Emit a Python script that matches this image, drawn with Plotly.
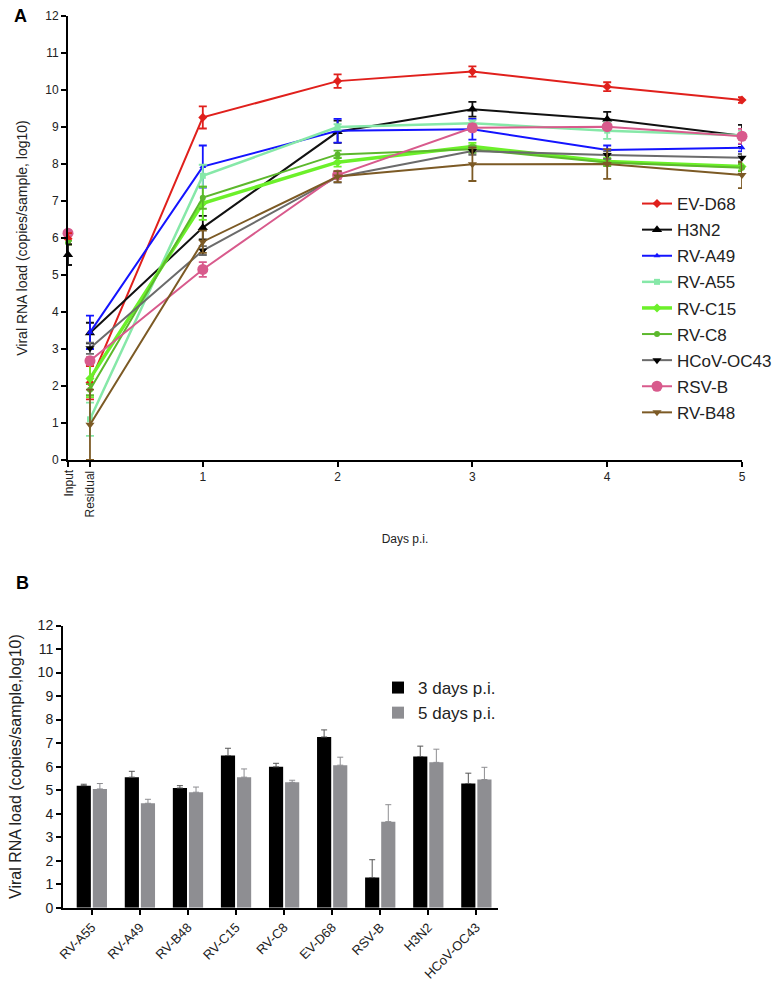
import plotly.graph_objects as go

FONT = "Liberation Sans, Arial, sans-serif"

# ---------------- Panel A data ----------------
timepoints = ["Input", "Residual", "1", "2", "3", "4", "5"]
tp_pos = [0, 0.163, 1, 2, 3, 4, 5]

series_names = ["EV-D68", "H3N2", "RV-A49", "RV-A55", "RV-C15", "RV-C8",
                "HCoV-OC43", "RSV-B", "RV-B48"]

# values at Residual, day1..day5
ev_d68 = [2.09, 9.26, 10.24, 10.50, 10.09, 9.73]
h3n2 = [3.43, 6.28, 8.87, 9.48, 9.21, 8.76]
rv_a49 = [3.45, 7.93, 8.90, 8.94, 8.38, 8.44]
rv_a55 = [1.10, 7.68, 9.00, 9.10, 8.90, 8.78]
rv_c15 = [2.20, 6.94, 8.05, 8.47, 8.07, 7.93]
rv_c8 = [1.90, 7.09, 8.26, 8.40, 8.04, 7.90]
hcov_oc43 = [3.02, 5.66, 7.65, 8.35, 8.24, 8.17]
rsv_b = [2.68, 5.15, 7.70, 8.98, 9.01, 8.75]
rv_b48 = [0.95, 5.90, 7.66, 7.99, 8.00, 7.70]

ev_d68_err = [0.45, 0.30, 0.18, 0.14, 0.12, 0.08]
h3n2_err = [0.28, 0.32, 0.30, 0.20, 0.20, 0.30]
rv_a49_err = [0.45, 0.57, 0.32, 0.28, 0.12, 0.10]
rv_a55_err = [0.45, 0.30, 0.08, 0.08, 0.22, 0.12]
rv_c15_err = [0.50, 0.45, 0.12, 0.10, 0.10, 0.10]
rv_c8_err = [0.15, 0.30, 0.10, 0.10, 0.10, 0.10]
hcov_oc43_err = [0.15, 0.12, 0.15, 0.10, 0.10, 0.10]
rsv_b_err = [0.10, 0.20, 0.10, 0.10, 0.06, 0.20]
rv_b48_err = [0.95, 0.30, 0.15, 0.45, 0.40, 0.35]

# Input values (only some viruses shown)
input_names = ["RSV-B", "EV-D68", "RV-C8", "H3N2"]
input_vals = [6.13, 5.98, 5.87, 5.55]
input_err = [0.06, 0.15, 0.05, 0.28]

# ---------------- Panel B data ----------------
bar_categories = ["RV-A55", "RV-A49", "RV-B48", "RV-C15", "RV-C8", "EV-D68",
                  "RSV-B", "H3N2", "HCoV-OC43"]
day3_vals = [5.19, 5.55, 5.09, 6.47, 5.99, 7.26, 1.28, 6.43, 5.28]
day3_err = [0.06, 0.25, 0.10, 0.31, 0.15, 0.30, 0.76, 0.44, 0.44]
day5_vals = [5.05, 4.44, 4.91, 5.55, 5.33, 6.06, 3.66, 6.18, 5.45]
day5_err = [0.23, 0.17, 0.22, 0.35, 0.09, 0.34, 0.72, 0.56, 0.52]

# ---------------- styles ----------------
styles = {
    "EV-D68": dict(color="#e0201c", mcolor="#e0201c", symbol="diamond", size=7, width=2),
    "H3N2": dict(color="#111111", mcolor="#000000", symbol="triangle-up", size=9, width=2),
    "RV-A49": dict(color="#1414ff", mcolor="#1414ff", symbol="triangle-up", size=6, width=2),
    "RV-A55": dict(color="#86e8a8", mcolor="#86e8a8", symbol="square", size=6, width=2.5),
    "RV-C15": dict(color="#6cf02a", mcolor="#6cf02a", symbol="diamond", size=7, width=3.5),
    "RV-C8": dict(color="#5cb82c", mcolor="#5cb82c", symbol="circle", size=6, width=2),
    "HCoV-OC43": dict(color="#6b6b6b", mcolor="#000000", symbol="triangle-down", size=8, width=2),
    "RSV-B": dict(color="#d85a8c", mcolor="#d85a8c", symbol="circle", size=11, width=2),
    "RV-B48": dict(color="#7c5a25", mcolor="#7c5a25", symbol="triangle-down", size=8, width=2),
}
values = {"EV-D68": (ev_d68, ev_d68_err), "H3N2": (h3n2, h3n2_err),
          "RV-A49": (rv_a49, rv_a49_err), "RV-A55": (rv_a55, rv_a55_err),
          "RV-C15": (rv_c15, rv_c15_err), "RV-C8": (rv_c8, rv_c8_err),
          "HCoV-OC43": (hcov_oc43, hcov_oc43_err), "RSV-B": (rsv_b, rsv_b_err),
          "RV-B48": (rv_b48, rv_b48_err)}

fig = go.Figure()

x_line = tp_pos[1:]
for name in series_names:
    st = styles[name]
    vals, errs = values[name]
    fig.add_trace(go.Scatter(
        x=x_line, y=vals, name=name, mode="lines+markers",
        legendgroup=name, legend="legend",
        line=dict(color=st["color"], width=st["width"]),
        marker=dict(color=st["mcolor"], symbol=st["symbol"], size=st["size"]),
        error_y=dict(type="data", array=errs, color=st["color"], thickness=1.8, width=4),
        cliponaxis=False, xaxis="x", yaxis="y",
    ))

for name, v, e in zip(input_names, input_vals, input_err):
    st = styles[name]
    fig.add_trace(go.Scatter(
        x=[tp_pos[0]], y=[v], mode="markers", showlegend=False,
        legendgroup=name,
        marker=dict(color=st["mcolor"], symbol=st["symbol"], size=st["size"]),
        error_y=dict(type="data", array=[e], color=st["color"], thickness=1.8, width=4),
        cliponaxis=False, xaxis="x", yaxis="y",
    ))

# ---------------- bars ----------------
fig.add_trace(go.Bar(
    x=bar_categories, y=day3_vals, name="3 days p.i.", legend="legend2",
    marker=dict(color="#000000", line=dict(width=0)),
    error_y=dict(type="data", array=day3_err, arrayminus=[0] * len(day3_err),
                 symmetric=False, color="#555555", thickness=1, width=3),
    xaxis="x2", yaxis="y2",
))
fig.add_trace(go.Bar(
    x=bar_categories, y=day5_vals, name="5 days p.i.", legend="legend2",
    marker=dict(color="#8e8e92", line=dict(width=0)),
    error_y=dict(type="data", array=day5_err, arrayminus=[0] * len(day5_err),
                 symmetric=False, color="#8e8e92", thickness=1, width=3),
    xaxis="x2", yaxis="y2",
))

W, H = 782, 991

def px_x(p):
    return p / W

def px_y(p):
    return 1 - p / H

axis_common = dict(showline=True, linecolor="black", linewidth=2, ticks="outside",
                   ticklen=5, tickwidth=1.5, tickcolor="black", showgrid=False,
                   zeroline=False, automargin=False,
                   tickfont=dict(family=FONT, size=12, color="#222"))

fig.update_layout(
    width=W, height=H,
    margin=dict(l=0, r=0, t=0, b=0, autoexpand=False),
    paper_bgcolor="white", plot_bgcolor="white",
    font=dict(family=FONT, color="#222"),
    barmode="group", bargap=0.33, bargroupgap=0.12,
    xaxis=dict(domain=[px_x(68), px_x(742)], range=[0, 5], anchor="y",
               tickvals=tp_pos, ticktext=["", "", "1", "2", "3", "4", "5"],
               title=dict(text="Days p.i.", font=dict(family=FONT, size=12), standoff=51),
               **axis_common),
    yaxis=dict(domain=[px_y(460), px_y(16)], range=[0, 12], anchor="x",
               tickvals=list(range(13)),
               title=dict(text="Viral RNA load (copies/sample, log10)",
                          font=dict(family=FONT, size=14), standoff=14),
               **axis_common),
    xaxis2=dict(domain=[px_x(63), px_x(498)], range=[-0.6, 8.45], anchor="y2",
                tickangle=-45, **{**axis_common, "tickfont": dict(family=FONT, size=13, color="#222")}),
    yaxis2=dict(domain=[px_y(907.7), px_y(625.5)], range=[0, 12], anchor="x2",
                tickvals=list(range(13)),
                title=dict(text="Viral RNA load (copies/sample,log10)",
                           font=dict(family=FONT, size=16), standoff=12),
                **{**axis_common, "tickfont": dict(family=FONT, size=14, color="#222")}),
    legend=dict(x=px_x(637), y=px_y(186), xanchor="left", yanchor="top",
                font=dict(family=FONT, size=17, color="#222"), tracegroupgap=1,
                bgcolor="rgba(0,0,0,0)", itemwidth=30),
    legend2=dict(x=px_x(378), y=px_y(670), xanchor="left", yanchor="top",
                 font=dict(family=FONT, size=17, color="#222"),
                 bgcolor="rgba(0,0,0,0)"),
    annotations=[
        dict(text="<b>A</b>", x=px_x(12), y=px_y(4), xref="paper", yref="paper",
             xanchor="left", yanchor="top", showarrow=False,
             font=dict(family=FONT, size=18, color="black")),
        dict(text="<b>B</b>", x=px_x(14), y=px_y(571), xref="paper", yref="paper",
             xanchor="left", yanchor="top", showarrow=False,
             font=dict(family=FONT, size=18, color="black")),
        dict(text=timepoints[0], x=tp_pos[0], y=px_y(468), xref="x", yref="paper",
             textangle=-90, xanchor="center", yanchor="top", showarrow=False,
             font=dict(family=FONT, size=12, color="#222")),
        dict(text=timepoints[1], x=tp_pos[1], y=px_y(468), xref="x", yref="paper",
             textangle=-90, xanchor="center", yanchor="top", showarrow=False,
             font=dict(family=FONT, size=12, color="#222")),
    ],
)

fig.write_html("out.html", config={"displayModeBar": False},
               post_script="document.body.style.margin='0';")
